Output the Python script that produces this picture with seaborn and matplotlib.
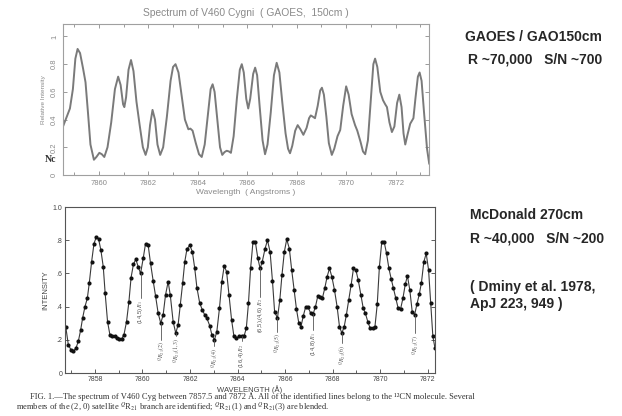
import matplotlib
matplotlib.use("Agg")
import matplotlib.pyplot as plt
from matplotlib.ticker import MultipleLocator
import seaborn as sns

# GAOES spectrum (upper panel)
top_wl = [7858.55, 7858.70, 7858.83, 7858.95, 7859.05, 7859.14, 7859.24, 7859.36, 7859.46, 7859.56,
          7859.66, 7859.80, 7859.90, 7860.02, 7860.12, 7860.22, 7860.35, 7860.50, 7860.65, 7860.78,
          7860.88, 7860.98, 7861.03, 7861.10, 7861.20, 7861.30, 7861.40, 7861.52, 7861.65, 7861.78,
          7861.89, 7861.98, 7862.07, 7862.17, 7862.27, 7862.37, 7862.48, 7862.60, 7862.75, 7862.90,
          7863.00, 7863.10, 7863.22, 7863.35, 7863.48, 7863.62, 7863.70, 7863.79, 7863.92, 7864.05,
          7864.16, 7864.28, 7864.40, 7864.52, 7864.60, 7864.68, 7864.80, 7864.90, 7864.99, 7865.08,
          7865.17, 7865.26, 7865.34, 7865.45, 7865.58, 7865.70, 7865.78, 7865.86, 7865.96, 7866.04,
          7866.12, 7866.24, 7866.32, 7866.40, 7866.50, 7866.62, 7866.72, 7866.82, 7866.95, 7867.08,
          7867.19, 7867.30, 7867.42, 7867.55, 7867.65, 7867.73, 7867.82, 7867.94, 7868.04, 7868.15,
          7868.27, 7868.40, 7868.50, 7868.57, 7868.66, 7868.74, 7868.85, 7868.95, 7869.02, 7869.10,
          7869.20, 7869.30, 7869.42, 7869.52, 7869.65, 7869.76, 7869.88, 7870.00, 7870.10, 7870.22,
          7870.36, 7870.45, 7870.58, 7870.68, 7870.77, 7870.88, 7871.00, 7871.10, 7871.17, 7871.26,
          7871.38, 7871.49, 7871.58, 7871.65, 7871.75, 7871.85, 7871.95, 7872.06, 7872.15, 7872.24,
          7872.32, 7872.39, 7872.48, 7872.59, 7872.72, 7872.80, 7872.90, 7872.97, 7873.05, 7873.15,
          7873.27, 7873.36]
top_int = [0.35, 0.42, 0.48, 0.62, 0.84, 0.91, 0.88, 0.77, 0.67, 0.45,
           0.22, 0.11, 0.13, 0.16, 0.15, 0.13, 0.20, 0.38, 0.62, 0.71,
           0.65, 0.51, 0.49, 0.56, 0.76, 0.83, 0.75, 0.53, 0.36, 0.20,
           0.145, 0.20, 0.36, 0.47, 0.40, 0.22, 0.145, 0.20, 0.42, 0.68,
           0.78, 0.80, 0.74, 0.57, 0.40, 0.33, 0.335, 0.32, 0.23, 0.15,
           0.13, 0.22, 0.42, 0.62, 0.655, 0.60, 0.38, 0.20, 0.145, 0.165,
           0.175, 0.17, 0.16, 0.28, 0.55, 0.76, 0.80, 0.74, 0.55, 0.48,
           0.55, 0.73, 0.775, 0.72, 0.50, 0.25, 0.15, 0.22, 0.45, 0.72,
           0.81, 0.74, 0.52, 0.30, 0.19, 0.157, 0.21, 0.32, 0.36, 0.33,
           0.29, 0.34, 0.41, 0.43, 0.42, 0.41, 0.50, 0.61, 0.63, 0.58,
           0.42, 0.23, 0.145, 0.19, 0.28, 0.325, 0.50, 0.64, 0.58, 0.44,
           0.36, 0.32, 0.24, 0.17, 0.15, 0.25, 0.55, 0.80, 0.84, 0.78,
           0.60, 0.54, 0.51, 0.49, 0.38, 0.31, 0.35, 0.52, 0.58, 0.49,
           0.30, 0.22, 0.29, 0.37, 0.41, 0.55, 0.71, 0.74, 0.68, 0.45,
           0.19, 0.08]

# McDonald spectrum (lower panel), one value per plotted dot
bot_wl = [7856.77, 7856.88, 7856.99, 7857.09, 7857.20, 7857.30, 7857.40, 7857.48, 7857.58, 7857.68,
          7857.76, 7857.86, 7857.96, 7858.06, 7858.15, 7858.25, 7858.35, 7858.43, 7858.53, 7858.63,
          7858.73, 7858.83, 7858.92, 7859.02, 7859.12, 7859.22, 7859.33, 7859.43, 7859.52, 7859.62,
          7859.72, 7859.82, 7859.92, 7860.03, 7860.13, 7860.24, 7860.34, 7860.45, 7860.55, 7860.66,
          7860.77, 7860.87, 7860.97, 7861.08, 7861.17, 7861.29, 7861.40, 7861.50, 7861.59, 7861.69,
          7861.78, 7861.87, 7861.99, 7862.10, 7862.20, 7862.29, 7862.41, 7862.52, 7862.62, 7862.71,
          7862.83, 7862.92, 7863.03, 7863.13, 7863.24, 7863.34, 7863.44, 7863.54, 7863.64, 7863.75,
          7863.85, 7863.94, 7864.06, 7864.17, 7864.27, 7864.37, 7864.46, 7864.55, 7864.65, 7864.75,
          7864.85, 7864.95, 7865.04, 7865.16, 7865.26, 7865.37, 7865.47, 7865.56, 7865.68, 7865.78,
          7865.87, 7865.97, 7866.07, 7866.18, 7866.28, 7866.38, 7866.48, 7866.58, 7866.67, 7866.77,
          7866.87, 7866.97, 7867.08, 7867.18, 7867.28, 7867.38, 7867.47, 7867.57, 7867.67, 7867.77,
          7867.87, 7867.97, 7868.08, 7868.19, 7868.29, 7868.39, 7868.49, 7868.58, 7868.68, 7868.78,
          7868.88, 7868.98, 7869.08, 7869.19, 7869.29, 7869.38, 7869.48, 7869.58, 7869.68, 7869.78,
          7869.88, 7869.97, 7870.07, 7870.17, 7870.27, 7870.37, 7870.47, 7870.56, 7870.66, 7870.76,
          7870.86, 7870.96, 7871.06, 7871.15, 7871.25, 7871.35, 7871.45, 7871.55, 7871.65, 7871.74,
          7871.84, 7871.94, 7872.04, 7872.13, 7872.22, 7872.31]
bot_int = [0.28, 0.17, 0.14, 0.13, 0.15, 0.19, 0.26, 0.33, 0.40, 0.45,
           0.54, 0.67, 0.78, 0.82, 0.81, 0.74, 0.64, 0.48, 0.31, 0.23,
           0.22, 0.22, 0.21, 0.205, 0.205, 0.23, 0.31, 0.43, 0.575, 0.655,
           0.685, 0.64, 0.60, 0.69, 0.78, 0.77, 0.66, 0.555, 0.465, 0.36,
           0.30, 0.35, 0.47, 0.55, 0.47, 0.31, 0.24, 0.29, 0.41, 0.54,
           0.67, 0.745, 0.77, 0.73, 0.63, 0.515, 0.42, 0.38, 0.35, 0.33,
           0.285, 0.23, 0.20, 0.25, 0.39, 0.55, 0.645, 0.61, 0.47, 0.32,
           0.22, 0.21, 0.22, 0.22, 0.22, 0.27, 0.42, 0.63, 0.79, 0.79,
           0.695, 0.63, 0.67, 0.75, 0.80, 0.73, 0.555, 0.37, 0.33, 0.44,
           0.59, 0.73, 0.805, 0.75, 0.62, 0.50, 0.385, 0.30, 0.28, 0.345,
           0.40, 0.395, 0.36, 0.355, 0.40, 0.465, 0.455, 0.45, 0.51, 0.58,
           0.63, 0.58, 0.50, 0.40, 0.28, 0.24, 0.28, 0.35, 0.44, 0.53,
           0.63, 0.62, 0.56, 0.47, 0.39, 0.36, 0.31, 0.27, 0.27, 0.275,
           0.415, 0.64, 0.79, 0.79, 0.72, 0.63, 0.565, 0.51, 0.45, 0.39,
           0.385, 0.45, 0.535, 0.585, 0.50, 0.37, 0.35, 0.415, 0.475, 0.545,
           0.67, 0.72, 0.62, 0.42, 0.22, 0.15]

# line identifications: wavelength, intensity of the marked dot, end of the tie line, label
id_wl = [7859.92, 7860.77, 7861.40, 7863.03, 7864.17, 7864.95, 7865.68, 7867.18, 7868.39, 7871.45]
id_top = [0.60, 0.30, 0.24, 0.20, 0.22, 0.63, 0.33, 0.355, 0.24, 0.35]
id_gap = [0.45, 0.20, 0.22, 0.16, 0.19, 0.46, 0.25, 0.26, 0.18, 0.24]
id_text = ["(14,5) $R_1$", "$^{Q}R_{21}(2)$", "$^{Q}R_{21}(1,3)$", "$^{Q}R_{21}(4)$", "(16,4) $R_2$",
           "(6,5),(4,6) $R_{2}$", "$^{Q}R_{21}(5)$", "(14,8) $R_1$", "$^{Q}R_{21}(6)$", "$^{Q}R_{21}(7)$"]

sns.set_style("ticks")
plt.rcParams['font.family'] = ['Liberation Sans', 'DejaVu Sans']
plt.rcParams['mathtext.fontset'] = 'stix'

fig = plt.figure(figsize=(6.22, 4.16), dpi=100)
W, H = 622, 416

grey = '#8a8a8a'
ax1 = fig.add_axes([63 / W, 1 - 175 / H, 366 / W, 151 / H])
sns.lineplot(x=top_wl, y=top_int, ax=ax1, color='#7a7a7a', lw=1.4)
ax1.set_xlim(7858.55, 7873.35)
ax1.set_ylim(0, 1.09)
ax1.xaxis.set_major_locator(MultipleLocator(2))
ax1.xaxis.set_minor_locator(MultipleLocator(1))
ax1.set_yticks([0, 0.2, 0.4, 0.6, 0.8, 1.0])
ax1.set_yticklabels(['0', '0.2', '0.4', '0.6', '0.8', '1'], rotation=90, va='center')
ax1.tick_params(which='both', direction='in', top=True, right=True, colors=grey,
                labelsize=5.5, length=3, width=0.6)
ax1.tick_params(which='minor', length=2)
for s in ax1.spines.values():
    s.set_color('#a0a0a0')
    s.set_linewidth(0.8)
ax1.set_xlabel('Wavelength  ( Angstroms )', fontsize=6, color=grey)
ax1.xaxis.set_label_coords(0.5, -14 / 151, transform=ax1.transAxes)
ax1.set_ylabel('Relative Intensity', fontsize=4.6, color=grey, labelpad=4)
ax1.set_title('Spectrum of V460 Cygni  ( GAOES,  150cm )', fontsize=7.4, color=grey, pad=6)

ax2 = fig.add_axes([65 / W, 1 - 373 / H, 370 / W, 166 / H])
sns.lineplot(x=bot_wl, y=bot_int, ax=ax2, color='#3a3a3a', lw=0.8,
             marker='o', markersize=3, markeredgewidth=0, markerfacecolor='#111111')
for wl, yt, yg, txt in zip(id_wl, id_top, id_gap, id_text):
    ax2.plot([wl, wl], [yt, yg], color='#555555', lw=0.6)
    ax2.text(wl, yg - 0.01, txt, rotation=90, ha='center', va='top', fontsize=4.2, color='#555555')
ax2.set_xlim(7856.74, 7872.31)
ax2.set_ylim(0, 1.0)
ax2.xaxis.set_major_locator(MultipleLocator(2))
ax2.xaxis.set_minor_locator(MultipleLocator(1))
ax2.set_yticks([0, 0.2, 0.4, 0.6, 0.8, 1.0])
ax2.set_yticklabels(['0', '.2', '.4', '.6', '.8', '1.0'])
ax2.tick_params(which='both', direction='in', right=True, colors='#444444',
                labelsize=5, length=3, width=0.6, pad=2)
ax2.tick_params(which='minor', length=2)
for s in ax2.spines.values():
    s.set_color('#555555')
    s.set_linewidth(0.8)
ax2.set_xlabel('WAVELENGTH (Å)', fontsize=5.5, color='#444444')
ax2.xaxis.set_label_coords(0.5, -12 / 166, transform=ax2.transAxes)
ax2.set_ylabel('INTENSITY', fontsize=5.5, color='#444444', labelpad=2)

# notes on the right
fig.text(465 / W, 1 - 37 / H, 'GAOES / GAO150cm', fontsize=10, fontweight='bold', va='center')
fig.text(468 / W, 1 - 59 / H, 'R ~70,000   S/N ~700', fontsize=10, fontweight='bold', va='center')
fig.text(470 / W, 1 - 215 / H, 'McDonald 270cm', fontsize=10, fontweight='bold', va='center')
fig.text(470 / W, 1 - 239 / H, 'R ~40,000   S/N ~200', fontsize=10, fontweight='bold', va='center')
fig.text(470 / W, 1 - 287 / H, '( Dminy et al. 1978,', fontsize=10, fontweight='bold', va='center')
fig.text(470 / W, 1 - 304 / H, 'ApJ 223, 949 )', fontsize=10, fontweight='bold', va='center')

fig.text(45 / W, 1 - 160 / H, 'Nc', fontsize=7, family='Liberation Serif', fontweight='bold',
         va='center', color='#333333')

cap1 = ('FIG. 1.—The spectrum of V460 Cyg between 7857.5 and 7872 Å. All of the identified lines '
        'belong to the ¹²CN molecule. Several')
cap2 = 'members of the (2, 0) satellite $^{Q}$R$_{21}$ branch are identified; $^{Q}$R$_{21}$(1) and $^{Q}$R$_{21}$(3) are blended.'
fig.text(30 / W, 1 - 396.5 / H, cap1, fontsize=6.1, family='Liberation Serif', va='center', color='#333333')
fig.text(16 / W, 1 - 407 / H, cap2, fontsize=6.1, family='Liberation Serif', va='center', color='#333333')

fig.savefig('out.png', dpi=100)
